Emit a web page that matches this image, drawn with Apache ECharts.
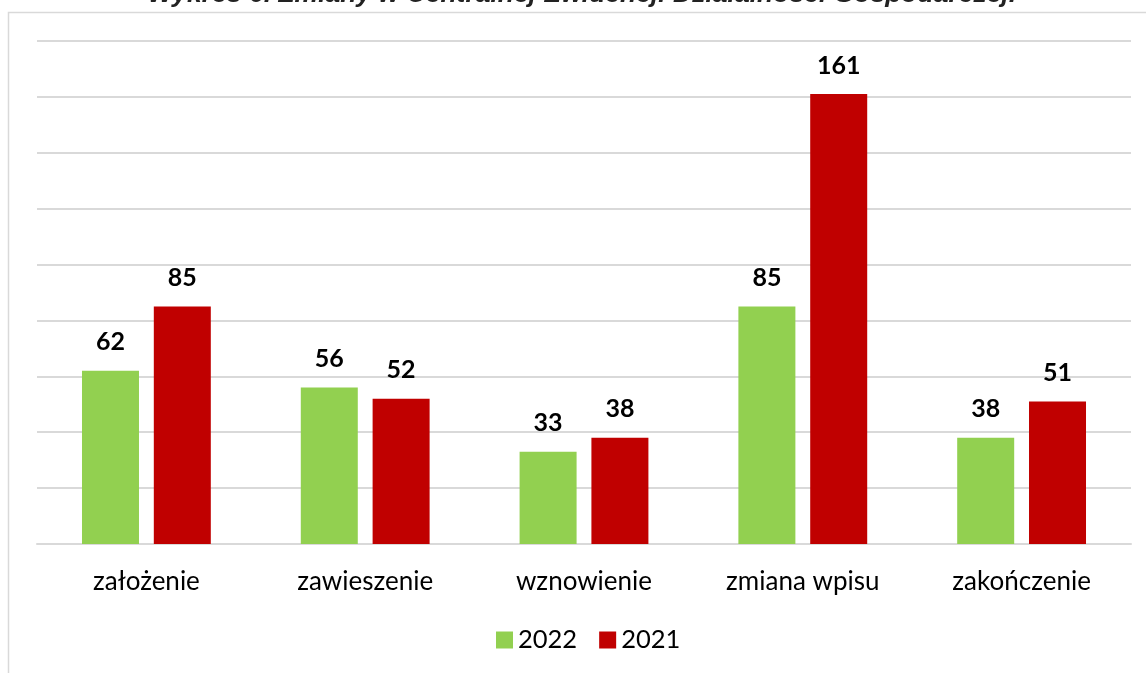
<!DOCTYPE html>
<html><head><meta charset="utf-8">
<script src="https://cdn.jsdelivr.net/npm/echarts@6/dist/echarts.min.js"></script>
<style>html,body{margin:0;padding:0;background:#fff}#c{width:1146px;height:673px}</style>
</head><body><div id="c"></div>
<script>
const categories = ['założenie', 'zawieszenie', 'wznowienie', 'zmiana wpisu', 'zakończenie'];
const series2022 = [62, 56, 33, 85, 38];
const series2021 = [85, 52, 38, 161, 51];
const titleText = 'Wykres 6. Zmiany w Centralnej Ewidencji Działalności Gospodarczej.';
const FONT = 'Lato, "Open Sans", sans-serif';

const chart = echarts.init(document.getElementById('c'));
const labelCfg = {show: true, position: 'top', distance: 16, fontFamily: FONT, fontWeight: 'bold', fontSize: 25, color: '#000'};
chart.setOption({
  animation: false,
  graphic: [
    {type: 'rect', shape: {x: 8.5, y: 12.5, width: 1200, height: 700}, style: {fill: 'none', stroke: '#d9d9d9', lineWidth: 1.5}, silent: true, z: -1},
    {type: 'text', x: 582, y: 8, style: {text: titleText, fontFamily: '"Liberation Sans", Arial, sans-serif', fontStyle: 'italic', fontWeight: 'bold', fontSize: 26.5, fill: '#222', align: 'center', verticalAlign: 'bottom'}}
  ],
  grid: {left: 37, right: 15, top: 41, bottom: 129, containLabel: false},
  xAxis: {
    type: 'category', data: categories,
    axisLine: {lineStyle: {color: '#d9d9d9', width: 2}},
    axisTick: {show: false},
    axisLabel: {fontFamily: FONT, fontSize: 26, color: '#000', margin: 25}
  },
  yAxis: {
    type: 'value', min: 0, max: 180, interval: 20,
    axisLabel: {show: false}, axisLine: {show: false}, axisTick: {show: false},
    splitLine: {lineStyle: {color: '#d9d9d9', width: 2}}
  },
  legend: {
    top: 622, left: 491, itemWidth: 17, itemHeight: 17, itemGap: 22,
    icon: 'rect',
    textStyle: {fontFamily: FONT, fontSize: 25.5, color: '#000'},
    data: ['2022', '2021']
  },
  series: [
    {name: '2022', type: 'bar', data: series2022, itemStyle: {color: '#92d050'}, barWidth: 57, barGap: '26%', label: labelCfg},
    {name: '2021', type: 'bar', data: series2021, itemStyle: {color: '#c00000'}, barWidth: 57, barGap: '26%', label: labelCfg}
  ]
});
</script></body></html>
